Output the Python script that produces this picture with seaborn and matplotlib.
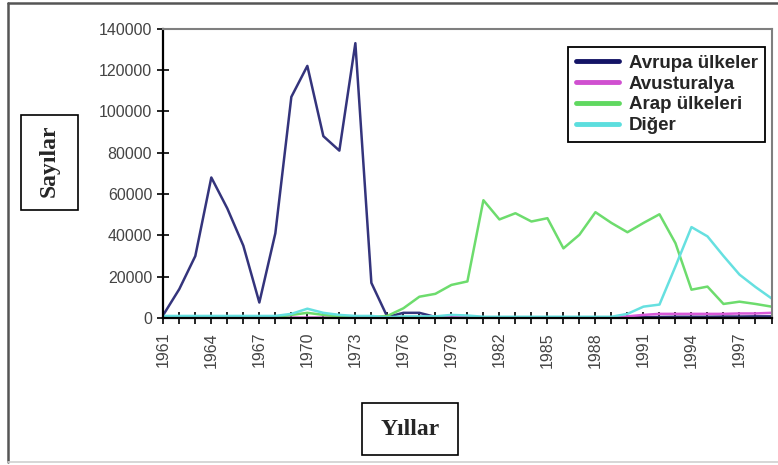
import numpy as np
import pandas as pd
import matplotlib
matplotlib.use("Agg")
import matplotlib.pyplot as plt
from matplotlib.patches import Rectangle
from matplotlib.lines import Line2D
import seaborn as sns

# Values (1961-1999)
years = list(range(1961, 2000))
avrupa = [1500, 14000, 30000, 68000, 53000, 35000, 7500, 41000, 107000, 122000,
          88000, 81000, 133000, 17000, 500, 2500, 2500, 500, 300, 300,
          300, 300, 300, 300, 300, 300, 300, 300, 300, 300,
          400, 500, 600, 600, 600, 700, 700, 800, 800]
avusturalya = [200, 200, 200, 200, 200, 200, 200, 200, 200, 200,
               200, 200, 200, 200, 200, 200, 200, 300, 1200, 800,
               300, 300, 300, 300, 300, 300, 300, 300, 300, 800,
               1500, 2000, 2000, 2000, 2000, 2000, 2200, 2200, 2500]
arap = [300, 300, 300, 300, 300, 300, 300, 500, 1500, 2500,
        1500, 800, 500, 500, 1000, 4700, 10300, 11700, 16000, 17700,
        57000, 47700, 50700, 46700, 48300, 33700, 40300, 51200, 46000, 41500,
        46000, 50200, 36200, 13700, 15200, 6800, 7900, 6800, 5500]
diger = [1000, 1000, 1000, 1000, 1000, 1000, 1000, 1000, 2000, 4500,
         2500, 1500, 1000, 1000, 300, 800, 800, 800, 1500, 1200,
         600, 600, 600, 600, 600, 600, 600, 600, 600, 2000,
         5500, 6500, 25000, 44000, 39500, 30000, 21000, 15000, 9500]

series_names = ["Avrupa ülkeler", "Avusturalya", "Arap ülkeleri", "Diğer"]
colors = ["#34347c", "#d95ad9", "#6ddc6d", "#66e0e0"]
legend_colors = ["#141466", "#d050d0", "#60d860", "#5cdede"]

df = pd.DataFrame({
    "Yıl": years * 4,
    "Sayı": avrupa + avusturalya + arap + diger,
    "Seri": sum([[n] * len(years) for n in series_names], []),
})

sns.set_theme(style="white")
plt.rcParams["font.family"] = ["Liberation Sans", "DejaVu Sans"]

fig = plt.figure(figsize=(7.78, 4.65), dpi=100)
ax = fig.add_axes([163.3 / 778, 1 - 318 / 465, (771.5 - 163.3) / 778, (318 - 28.7) / 465])

sns.lineplot(data=df, x="Yıl", y="Sayı", hue="Seri", hue_order=series_names,
             palette=colors, linewidth=1.8, legend=False, ax=ax)

ax.set_xlim(1961, 1999)
ax.set_ylim(0, 140000)
ax.set_yticks(range(0, 140001, 20000))
ax.set_yticklabels([str(v) for v in range(0, 140001, 20000)])
ax.set_xticks(years)
ax.set_xticklabels([str(y) if (y - 1961) % 3 == 0 else "" for y in years], rotation=90)
ax.tick_params(axis="both", direction="inout", length=8, width=1.2, color="black",
               labelsize=11.5, labelcolor="#444444")
ax.tick_params(axis="x", pad=6)
ax.tick_params(axis="y", pad=4)
ax.tick_params(left=True, bottom=True)
ax.set_xlabel("")
ax.set_ylabel("")

for side in ["left", "bottom"]:
    ax.spines[side].set_color("black")
    ax.spines[side].set_linewidth(1.6)
for side in ["top", "right"]:
    ax.spines[side].set_color("#7f7f7f")
    ax.spines[side].set_linewidth(1.5)

handles = [Line2D([0], [0], color=c, lw=3.5) for c in legend_colors]
leg = ax.legend(handles, series_names, loc="upper right", bbox_to_anchor=(0.990, 0.938),
                borderaxespad=0, frameon=True, fancybox=False, framealpha=1,
                edgecolor="black", handlelength=2.3, handletextpad=0.5,
                labelspacing=0.2, borderpad=0.42,
                prop={"family": "Liberation Sans", "weight": "bold", "size": 13.5})
leg.get_frame().set_linewidth(1.3)

# outer chart border (left, top dark; bottom faint)
fig.add_artist(Line2D([8 / 778, 8 / 778], [1 - 462 / 465, 1 - 3 / 465],
                      transform=fig.transFigure, color="#555555", lw=1.8))
fig.add_artist(Line2D([8 / 778, 1], [1 - 3 / 465, 1 - 3 / 465],
                      transform=fig.transFigure, color="#555555", lw=1.8))
fig.add_artist(Line2D([8 / 778, 1], [1 - 462 / 465, 1 - 462 / 465],
                      transform=fig.transFigure, color="#d0d0d0", lw=1.2))

# axis title boxes
fig.patches.append(Rectangle((20.7 / 778, 1 - 210 / 465), 57.6 / 778, 95 / 465,
                             transform=fig.transFigure, facecolor="white",
                             edgecolor="black", linewidth=1.2))
fig.text(49.5 / 778, 1 - 161 / 465, "Sayılar", rotation=90, ha="center", va="center",
         family=["Liberation Serif", "DejaVu Serif"], weight="bold", size=17)

fig.patches.append(Rectangle((362 / 778, 1 - 455 / 465), 96 / 778, 52 / 465,
                             transform=fig.transFigure, facecolor="white",
                             edgecolor="black", linewidth=1.2))
fig.text(410 / 778, 1 - 429 / 465, "Yıllar", ha="center", va="center",
         family=["Liberation Serif", "DejaVu Serif"], weight="bold", size=17)

fig.savefig("out.png", dpi=100)
